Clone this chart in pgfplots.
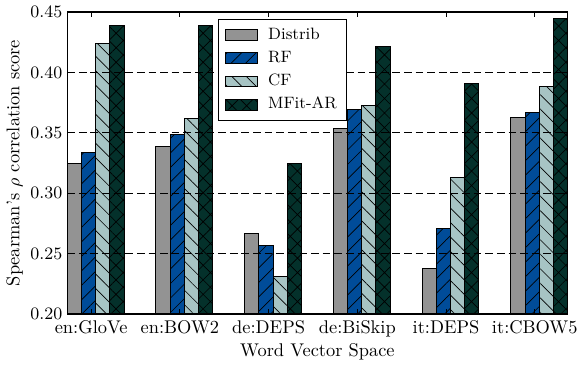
\documentclass[border=0pt]{standalone}
\usepackage{pgfplots}
\pgfplotsset{compat=1.18}
\usetikzlibrary{patterns.meta}
\definecolor{cDist}{HTML}{939393}
\definecolor{cRF}{HTML}{004C99}
\definecolor{cCF}{HTML}{A7C4C4}
\definecolor{cMF}{HTML}{04312B}
\begin{document}
\begin{tikzpicture}
\begin{axis}[
  scale only axis,
  width=258.5pt, height=156pt,
  xmin=-0.32, xmax=5.32,
  ymin=0.20, ymax=0.45,
  ytick={0.20,0.25,0.30,0.35,0.40,0.45},
  yticklabel style={xshift=1pt, /pgf/number format/.cd, fixed, fixed zerofill, precision=2},
  xtick={-0.05,0.95,1.95,2.95,3.95,4.95},
  xticklabels={en:GloVe,en:BOW2,de:DEPS,de:BiSkip,it:DEPS,it:CBOW5},
  tick pos=both, tick align=inside,
  major tick length=2.5pt,
  tick style={black, line width=0.5pt},
  axis line style={line width=0.6pt},
  axis on top,
  ymajorgrids,
  grid style={black, line width=0.5pt, dash pattern=on 4pt off 2pt},
  every tick label/.append style={font=\fontsize{9.5}{11}\selectfont},
  label style={font=\fontsize{9.5}{11}\selectfont},
  xlabel={Word Vector Space},
  ylabel={Spearman's $\rho$ correlation score},
  xlabel style={yshift=3.5pt},
  ylabel style={yshift=-3pt},
  xticklabel style={yshift=0pt},
  bar width=0.16,
  legend style={at={(0.302,0.977)}, anchor=north west, draw=black, line width=0.5pt,
    font=\fontsize{8.5}{10}\selectfont, cells={anchor=west}, row sep=0pt,
    nodes={text height=6.2pt, text depth=1.8pt, inner ysep=2pt},
    inner xsep=3pt, inner ysep=2pt},
  legend image code/.code={\draw[#1] (0pt,-2.75pt) rectangle (16.5pt,2.75pt); \path (20pt,0pt);},
]
\addplot[ybar, bar shift=-0.24, fill=cDist, draw=black, line width=0.5pt]
  coordinates {(0,0.325) (1,0.339) (2,0.267) (3,0.354) (4,0.2375) (5,0.363)};
\addplot[ybar, bar shift=-0.08, fill=cRF, draw=black, line width=0.5pt,
  postaction={pattern={Lines[angle=45,distance=5.3pt,line width=0.35pt]}, pattern color=black}]
  coordinates {(0,0.334) (1,0.349) (2,0.257) (3,0.369) (4,0.271) (5,0.367)};
\addplot[ybar, bar shift=0.08, fill=cCF, draw=black, line width=0.5pt,
  postaction={pattern={Lines[angle=-45,distance=5.3pt,line width=0.35pt]}, pattern color=black}]
  coordinates {(0,0.424) (1,0.362) (2,0.231) (3,0.373) (4,0.313) (5,0.388)};
\addplot[ybar, bar shift=0.24, fill=cMF, draw=black, line width=0.5pt,
  postaction={pattern={Hatch[angle=45,distance=5.3pt,line width=0.35pt]}, pattern color=black}]
  coordinates {(0,0.439) (1,0.439) (2,0.325) (3,0.4215) (4,0.391) (5,0.445)};
\legend{Distrib,RF,CF,MFit-AR}
\end{axis}
\end{tikzpicture}
\end{document}
